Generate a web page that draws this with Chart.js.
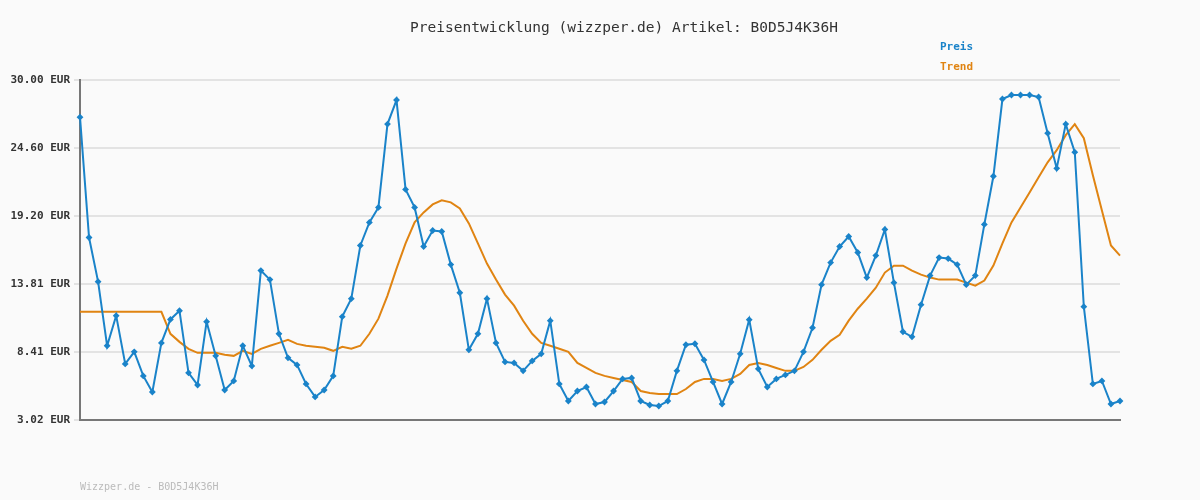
<!DOCTYPE html>
<html lang="de">
<head>
    <meta charset="UTF-8">
    <title>Preisentwicklung</title>
    <script src="https://cdn.jsdelivr.net/npm/chart.js"></script>
    <style>
        body { margin: 0; background: #fafafa; }
    </style>
</head>
<body>
<canvas id="chart" width="1200" height="500"></canvas>
<script>
    // Werte
    const preis = [
        27.05, 17.50, 14.00, 8.91, 11.30, 7.47, 8.43, 6.52, 5.24, 9.14,
        11.00, 11.69, 6.76, 5.80, 10.82, 8.11, 5.40, 6.12, 8.91, 7.31,
        14.88, 14.16, 9.86, 7.95, 7.39, 5.88, 4.85, 5.40, 6.52, 11.22,
        12.65, 16.87, 18.70, 19.89, 26.50, 28.41, 21.32, 19.89, 16.79, 18.06,
        17.98, 15.35, 13.12, 8.59, 9.86, 12.65, 9.14, 7.63, 7.55, 6.92,
        7.71, 8.27, 10.90, 5.88, 4.53, 5.32, 5.64, 4.29, 4.45, 5.32,
        6.28, 6.36, 4.53, 4.21, 4.13, 4.53, 6.92, 8.99, 9.07, 7.79,
        6.04, 4.29, 6.04, 8.27, 10.98, 7.08, 5.64, 6.28, 6.60, 6.92,
        8.43, 10.34, 13.76, 15.51, 16.79, 17.58, 16.31, 14.32, 16.07, 18.14,
        13.92, 10.02, 9.62, 12.17, 14.48, 15.91, 15.83, 15.35, 13.76, 14.48,
        18.54, 22.36, 28.49, 28.81, 28.81, 28.81, 28.65, 25.78, 22.99, 26.50,
        24.27, 12.01, 5.88, 6.12, 4.29, 4.53
    ];
    const trend = [
        11.61, 11.61, 11.61, 11.61, 11.61, 11.61, 11.61, 11.61, 11.61, 11.61,
        9.86, 9.22, 8.67, 8.35, 8.35, 8.35, 8.19, 8.11, 8.51, 8.27,
        8.67, 8.91, 9.14, 9.38, 9.06, 8.91, 8.83, 8.75, 8.51, 8.83,
        8.67, 8.91, 9.86, 11.06, 12.89, 15.03, 17.03, 18.70, 19.49, 20.13,
        20.45, 20.29, 19.81, 18.62, 17.03, 15.43, 14.16, 12.97, 12.09, 10.90,
        9.86, 9.14, 8.91, 8.67, 8.43, 7.55, 7.15, 6.76, 6.52, 6.36,
        6.20, 6.04, 5.32, 5.16, 5.08, 5.08, 5.08, 5.48, 6.04, 6.28,
        6.28, 6.12, 6.28, 6.68, 7.39, 7.55, 7.39, 7.15, 6.92, 6.92,
        7.23, 7.79, 8.59, 9.30, 9.78, 10.90, 11.85, 12.65, 13.52, 14.72,
        15.27, 15.27, 14.88, 14.56, 14.32, 14.16, 14.16, 14.16, 13.92, 13.68,
        14.08, 15.27, 17.03, 18.70, 19.89, 21.08, 22.28, 23.47, 24.43, 25.62,
        26.50, 25.38, 22.44, 19.65, 16.87, 16.07
    ];
    const labels = preis.map((_, i) => i + 1);
    const yTicks = [3.02, 8.41, 13.81, 19.20, 24.60, 30.00];

    const mono = 'DejaVu Sans Mono';

    // Titel, Legende und Fusszeile direkt auf die Leinwand
    const textPlugin = {
        id: 'texts',
        beforeDraw(chart) {
            const c = chart.ctx;
            c.save();
            c.fillStyle = '#fafafa';
            c.fillRect(0, 0, chart.width, chart.height);
            c.restore();
        },
        afterDraw(chart) {
            const c = chart.ctx;
            c.save();
            c.textBaseline = 'middle';
            c.font = '14.5px ' + mono;
            c.fillStyle = '#333';
            c.textAlign = 'center';
            c.fillText('Preisentwicklung (wizzper.de) Artikel: B0D5J4K36H', 624, 28);
            c.textAlign = 'left';
            c.font = 'bold 11px ' + mono;
            c.fillStyle = '#1a83c9';
            c.fillText('Preis', 940, 47);
            c.fillStyle = '#e08412';
            c.fillText('Trend', 940, 67);
            c.font = '10px ' + mono;
            c.fillStyle = '#bbb';
            c.fillText('Wizzper.de - B0D5J4K36H', 80, 487);
            c.restore();
        }
    };

    new Chart(document.getElementById('chart'), {
        type: 'line',
        data: {
            labels: labels,
            datasets: [{
                label: 'Preis',
                data: preis,
                borderColor: '#1a83c9',
                backgroundColor: '#1a83c9',
                borderWidth: 2,
                pointStyle: 'rectRot',
                pointRadius: 2,
                tension: 0
            }, {
                label: 'Trend',
                data: trend,
                borderColor: '#e08412',
                borderWidth: 2,
                pointRadius: 0,
                tension: 0
            }]
        },
        options: {
            responsive: false,
            animation: false,
            layout: { padding: { top: 80, right: 80, bottom: 72, left: 0 } },
            plugins: { legend: { display: false }, title: { display: false }, tooltip: { enabled: false } },
            scales: {
                x: {
                    offset: false,
                    ticks: { display: false },
                    grid: { display: false },
                    border: { color: '#777', width: 2 }
                },
                y: {
                    min: 3.02,
                    max: 30,
                    afterFit(scale) { scale.width = 80; },
                    afterBuildTicks(scale) { scale.ticks = yTicks.map(v => ({ value: v })); },
                    ticks: {
                        font: { family: mono, size: 11, weight: 'bold' },
                        color: '#333',
                        padding: 4,
                        callback: v => v.toFixed(2) + ' EUR'
                    },
                    grid: { color: '#e3e3e3', lineWidth: 2, tickLength: 6 },
                    border: { color: '#777', width: 2 }
                }
            }
        },
        plugins: [textPlugin]
    });
</script>
</body>
</html>
